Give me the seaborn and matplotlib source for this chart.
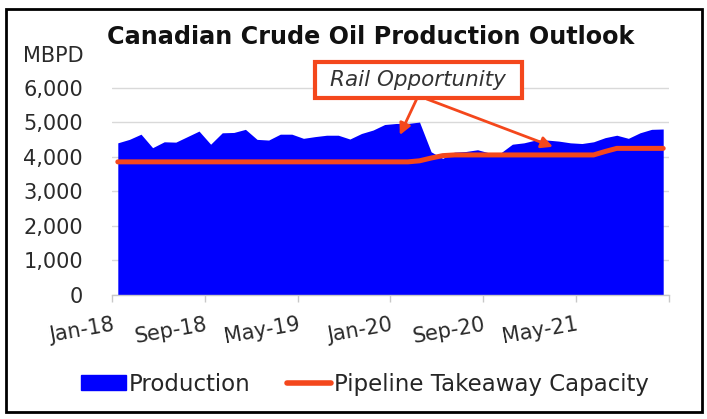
import numpy as np
import pandas as pd
import seaborn as sns
import matplotlib
matplotlib.use("Agg")
import matplotlib.pyplot as plt
from matplotlib.patches import Rectangle, Patch
from matplotlib.lines import Line2D

# ---- data ----
tick_labels = ["Jan-18", "Sep-18", "May-19", "Jan-20", "Sep-20", "May-21", ""]
production = [4400, 4500, 4650, 4260, 4430, 4420, 4580, 4740, 4360, 4690, 4700, 4790,
              4500, 4480, 4650, 4650, 4530, 4580, 4620, 4620, 4510, 4670, 4770, 4930,
              4960, 4960, 5000, 4140, 3950, 4130, 4150, 4200, 4110, 4110, 4360, 4400,
              4480, 4480, 4450, 4400, 4380, 4430, 4550, 4620, 4530, 4690, 4790, 4800]
pipeline = [3850] * 26 + [3880, 3960, 4030] + [4050] * 13 + [4150] + [4240] * 5
months = list(range(len(production)))
y_ticks = [0, 1000, 2000, 3000, 4000, 5000, 6000]

df = pd.DataFrame({"month": months, "Production": production, "Pipeline": pipeline})

BLUE = "#0000FF"
ORANGE = "#F4471C"

sns.set_theme(style="white")
plt.rcParams["font.family"] = ["DejaVu Sans"]

W, H = 707, 419
fig = plt.figure(figsize=(W / 100, H / 100), dpi=100)
ax = fig.add_axes([112 / W, 1 - 295 / H, (669 - 112) / W, (295 - 87.5) / H])

ax.fill_between(df["month"], 0, df["Production"], color=BLUE, linewidth=0, zorder=2)
sns.lineplot(data=df, x="month", y="Pipeline", ax=ax, color=ORANGE, linewidth=3.6,
             zorder=3, legend=False)

ax.set_xlim(-0.5, 47.5)
ax.set_ylim(0, 6000)
ax.set_yticks(y_ticks)
ax.set_yticklabels([f"{v:,}" for v in y_ticks], fontsize=15, color="#2a2a2a")
ax.yaxis.grid(True, color="#D9D9D9", linewidth=1)
ax.set_axisbelow(True)
ax.set_xticks([-0.5 + 8 * k for k in range(len(tick_labels))])
ax.set_xticklabels(tick_labels, fontsize=15, color="#2a2a2a", rotation=10,
                   ha="right", va="top", rotation_mode="anchor")
ax.tick_params(axis="x", direction="out", length=5, width=1, color="#C8C8C8", pad=9,
               bottom=True)
ax.tick_params(axis="y", length=0, pad=21)
ax.set_xlabel("")
ax.set_ylabel("")
for s in ["left", "right", "top"]:
    ax.spines[s].set_visible(False)
ax.spines["bottom"].set_color("#C8C8C8")
ax.spines["bottom"].set_linewidth(1)

# title and unit label
fig.text(371 / W, 1 - 37 / H, "Canadian Crude Oil Production Outlook", ha="center",
         va="center", fontsize=17.2, fontweight="bold", color="#111111")
fig.text(84 / W, 1 - 56 / H, "MBPD", ha="right", va="center", fontsize=15,
         color="#2a2a2a")

# annotation box
fig.add_artist(Rectangle((315 / W, 1 - 98.3 / H), (521.7 - 315) / W, (98.3 - 61.7) / H,
                         transform=fig.transFigure, fill=True, facecolor="white",
                         edgecolor=ORANGE, linewidth=3, zorder=5))
fig.text(418.3 / W, 1 - 80 / H, "Rail Opportunity", ha="center", va="center",
         fontsize=15.5, style="italic", color="#333333", zorder=6)
arrow_kw = dict(arrowstyle="-|>", color=ORANGE, lw=2, mutation_scale=17,
                shrinkA=0, shrinkB=0)
ax.annotate("", xy=(24.3, 4624), xycoords="data",
            xytext=(416.7 / W, 1 - 99 / H), textcoords="figure fraction",
            arrowprops=arrow_kw, zorder=6, annotation_clip=False)
ax.annotate("", xy=(37.5, 4286), xycoords="data",
            xytext=(426.7 / W, 1 - 99 / H), textcoords="figure fraction",
            arrowprops=arrow_kw, zorder=6, annotation_clip=False)

# legend
handles = [Patch(facecolor=BLUE, edgecolor=BLUE),
           Line2D([0], [0], color=ORANGE, linewidth=4)]
fig.legend(handles, ["Production", "Pipeline Takeaway Capacity"], loc="center",
           bbox_to_anchor=(365 / W, 1 - 384 / H), ncol=2, frameon=False,
           fontsize=16.5, handlelength=1.95, handleheight=0.6, handletextpad=0.1,
           columnspacing=1.6)

# outer frame
fig.add_artist(Rectangle((6 / W, 1 - 412 / H), (702 - 6) / W, (412 - 9) / H,
                         transform=fig.transFigure, fill=False, edgecolor="black",
                         linewidth=2))

fig.savefig("out.png", dpi=100)
